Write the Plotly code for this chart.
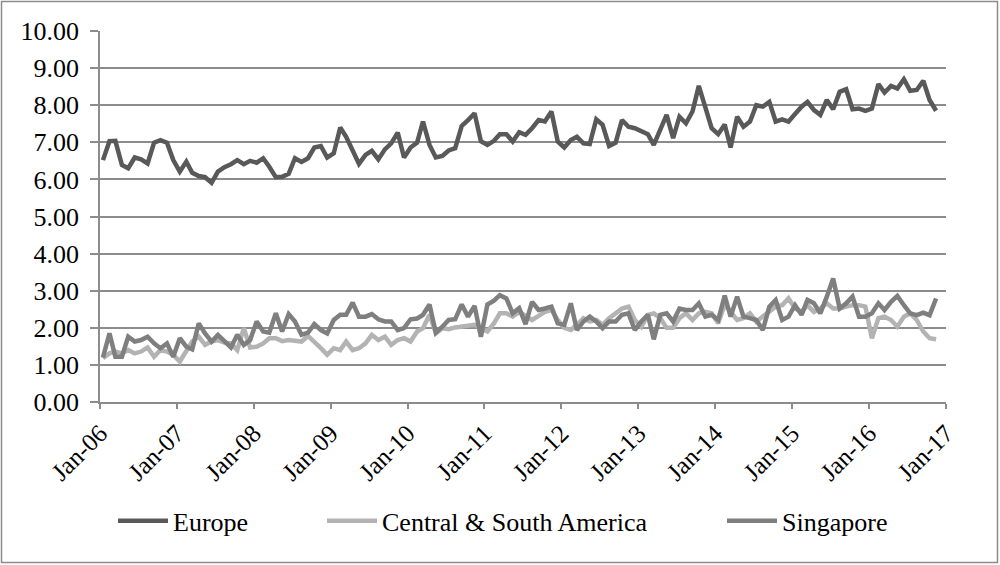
import pandas as pd
import plotly.graph_objects as go

start_month = "2006-01-01"
n_months = 131

europe = [6.52, 7.03, 7.04, 6.39, 6.30, 6.59, 6.54, 6.43, 6.99, 7.06, 6.99, 6.52,
          6.21, 6.48, 6.18, 6.09, 6.06, 5.91, 6.21, 6.33, 6.41, 6.52, 6.41, 6.50,
          6.45, 6.57, 6.34, 6.06, 6.07, 6.15, 6.57, 6.47, 6.57, 6.86, 6.90, 6.59,
          6.70, 7.40, 7.15, 6.80, 6.42, 6.66, 6.77, 6.54, 6.81, 6.97, 7.26, 6.59,
          6.86, 6.99, 7.56, 6.93, 6.59, 6.63, 6.78, 6.84, 7.44, 7.60, 7.78, 7.03,
          6.93, 7.04, 7.22, 7.22, 7.02, 7.27, 7.20, 7.38, 7.60, 7.56, 7.83, 7.02,
          6.86, 7.06, 7.15, 6.97, 6.95, 7.62, 7.47, 6.90, 6.99, 7.60, 7.42, 7.38,
          7.31, 7.22, 6.93, 7.33, 7.74, 7.11, 7.69, 7.51, 7.83, 8.52, 7.96, 7.38,
          7.22, 7.48, 6.86, 7.69, 7.42, 7.56, 8.00, 7.96, 8.09, 7.56, 7.62, 7.56,
          7.76, 7.96, 8.09, 7.87, 7.74, 8.14, 7.89, 8.36, 8.43, 7.89, 7.91, 7.85,
          7.91, 8.57, 8.34, 8.52, 8.45, 8.70, 8.39, 8.41, 8.66, 8.14, 7.85]

central_south_america = [1.18, 1.31, 1.36, 1.31, 1.40, 1.31, 1.36, 1.47, 1.22, 1.40, 1.36, 1.27,
                         1.09, 1.40, 1.63, 1.76, 1.54, 1.63, 1.67, 1.60, 1.58, 1.40, 1.99, 1.47,
                         1.49, 1.58, 1.72, 1.72, 1.64, 1.67, 1.65, 1.63, 1.78, 1.63, 1.45, 1.27,
                         1.45, 1.40, 1.63, 1.40, 1.45, 1.58, 1.81, 1.67, 1.76, 1.54, 1.67, 1.72,
                         1.63, 1.90, 1.99, 2.35, 1.85, 1.99, 1.96, 2.01, 2.03, 2.05, 2.08, 1.99,
                         1.90, 2.12, 2.39, 2.39, 2.30, 2.43, 2.32, 2.21, 2.32, 2.43, 2.48, 2.21,
                         2.00, 1.94, 2.08, 2.26, 2.17, 2.21, 2.08, 2.26, 2.39, 2.52, 2.57, 2.21,
                         2.03, 2.35, 2.39, 2.26, 2.00, 2.00, 2.26, 2.39, 2.21, 2.39, 2.43, 2.39,
                         2.12, 2.63, 2.43, 2.21, 2.26, 2.39, 2.17, 2.30, 2.43, 2.57, 2.61, 2.79,
                         2.52, 2.43, 2.61, 2.43, 2.52, 2.66, 2.52, 2.52, 2.57, 2.61, 2.61, 2.57,
                         1.72, 2.26, 2.30, 2.21, 2.03, 2.30, 2.39, 2.21, 1.90, 1.72, 1.69]

singapore = [1.20, 1.85, 1.22, 1.22, 1.76, 1.63, 1.67, 1.76, 1.58, 1.45, 1.58, 1.22,
             1.72, 1.49, 1.42, 2.12, 1.85, 1.63, 1.81, 1.63, 1.47, 1.81, 1.54, 1.67,
             2.17, 1.90, 1.87, 2.39, 1.90, 2.37, 2.17, 1.81, 1.87, 2.10, 1.94, 1.85,
             2.21, 2.35, 2.35, 2.68, 2.30, 2.30, 2.37, 2.23, 2.17, 2.17, 1.94, 1.99,
             2.23, 2.25, 2.35, 2.63, 1.87, 2.03, 2.21, 2.23, 2.63, 2.30, 2.59, 1.76,
             2.63, 2.73, 2.88, 2.79, 2.39, 2.53, 2.10, 2.70, 2.48, 2.52, 2.57, 2.12,
             2.08, 2.66, 1.94, 2.17, 2.30, 2.17, 1.99, 2.17, 2.17, 2.35, 2.39, 1.94,
             2.17, 2.35, 1.69, 2.35, 2.39, 2.17, 2.52, 2.48, 2.48, 2.66, 2.30, 2.35,
             2.21, 2.87, 2.30, 2.84, 2.30, 2.26, 2.21, 1.94, 2.57, 2.75, 2.21, 2.30,
             2.61, 2.35, 2.75, 2.66, 2.39, 2.84, 3.33, 2.52, 2.66, 2.84, 2.30, 2.30,
             2.39, 2.66, 2.48, 2.70, 2.86, 2.61, 2.39, 2.34, 2.41, 2.34, 2.79]

series_names = ["Europe", "Central & South America", "Singapore"]
series_colors = ["#595959", "#b3b3b3", "#7f7f7f"]

# monthly observations, plotted at mid-month
months = pd.date_range(start_month, periods=n_months, freq="MS") + pd.Timedelta(days=14)

FONT = "Liberation Serif, Times New Roman, serif"
fig = go.Figure()
legend_ids = ["legend", "legend2", "legend3"]
for name, vals, col, lg in zip(series_names, [europe, central_south_america, singapore],
                               series_colors, legend_ids):
    fig.add_trace(go.Scatter(x=months, y=vals, mode="lines", name=name,
                             line=dict(color=col, width=4.5), legend=lg))

legend_x = [0.113, 0.322, 0.722]
common_leg = dict(orientation="h", xref="container", yref="container", y=0.078,
                  yanchor="middle", xanchor="left", font=dict(family=FONT, size=26, color="#000"),
                  itemwidth=50, bgcolor="rgba(0,0,0,0)", borderwidth=0)
fig.update_layout(
    width=1000, height=565,
    margin=dict(l=100, r=54, t=31, b=163),
    paper_bgcolor="white", plot_bgcolor="white",
    font=dict(family=FONT, size=26, color="#000"),
    showlegend=True,
    legend=dict(x=legend_x[0], **common_leg),
    legend2=dict(x=legend_x[1], **common_leg),
    legend3=dict(x=legend_x[2], **common_leg),
    xaxis=dict(type="date", range=["2006-01-01", "2017-01-01"], tick0="2006-01-01",
               dtick="M12", tickformat="%b-%y", tickangle=-45, ticks="outside",
               ticklen=5, tickcolor="#8c8c8c", tickwidth=1.5, showline=True,
               linecolor="#8c8c8c", linewidth=1.5, showgrid=False, zeroline=False,
               tickfont=dict(family=FONT, size=25, color="#000")),
    yaxis=dict(range=[0, 10], dtick=1, tickformat=".2f", ticks="outside", ticklen=8,
               tickcolor="#8c8c8c", tickwidth=1.5, showline=True, linecolor="#8c8c8c",
               linewidth=1.5, showgrid=True, gridcolor="#8c8c8c", gridwidth=1.5,
               zeroline=False, ticklabelstandoff=6,
               tickfont=dict(family=FONT, size=26, color="#000")),
)
fig.add_shape(type="rect", xref="paper", yref="paper",
              x0=(1.5 - 100) / 846, x1=(997.5 - 100) / 846,
              y0=(402 - 562.5) / 371, y1=(402 - 1.5) / 371,
              line=dict(color="#8c8c8c", width=1.5), layer="below")
fig.write_html("out.html", config={"displayModeBar": False},
               post_script="document.body.style.margin='0';")
